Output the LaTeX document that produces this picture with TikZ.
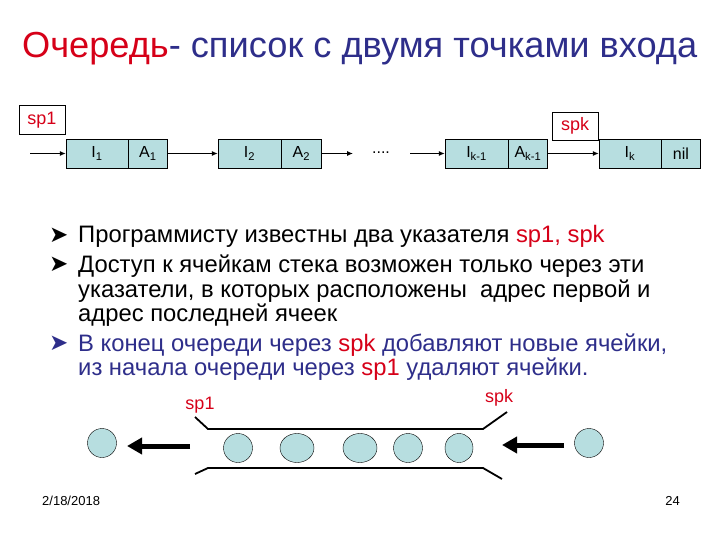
\documentclass[tikz,border=0pt]{standalone}
\usepackage{fontspec}
\setmainfont{Liberation Sans}
\newfontfamily\bulletfont{DejaVu Sans}
\usetikzlibrary{arrows.meta,positioning,shapes.geometric}
\definecolor{cellfill}{RGB}{183,222,224}
\definecolor{titleblue}{RGB}{46,46,138}
\definecolor{ptrred}{RGB}{214,0,24}
\begin{document}
\begin{tikzpicture}[x=1pt,y=-1pt,
  cell/.style={draw,fill=cellfill,minimum height=29pt,inner sep=0pt,font=\fontsize{16}{18}\selectfont},
  ptrbox/.style={draw,fill=white,minimum width=46pt,minimum height=29pt,inner sep=0pt,text=ptrred,font=\fontsize{18}{20}\selectfont},
  link/.style={-{Latex[length=6pt,width=5pt]},line width=1pt},
  ball/.style={ellipse,draw,fill=cellfill,inner sep=0pt,minimum height=29pt},
  bigarrow/.style={-{Triangle[length=15pt,width=16pt]},line width=5pt},
  tube/.style={line width=1.8pt},
  ptrlabel/.style={text=ptrred,font=\fontsize{18}{20}\selectfont},
  bulletmark/.style={anchor=base west,inner sep=0pt,font=\bulletfont\fontsize{23}{23}\selectfont},
  line/.style={anchor=base west,inner sep=0pt,font=\fontsize{23.8}{24}\selectfont}]
  \useasboundingbox (0,0) rectangle (720,540);

  % title
  \node[anchor=base west,inner sep=0pt,font=\fontsize{36.2}{40}\selectfont] (title) at (22,58)
    {\textcolor{ptrred}{Очередь}\textcolor{titleblue}{- список с двумя точками входа}};

  % list with two pointers
  \node[ptrbox] (sp1) at (42,120) {sp1};
  \node[ptrbox,minimum height=28pt] (spk) at (575,126) {spk};
  \node[cell,minimum width=62pt] (i1) at (97,153.5) {I\textsubscript{1}};
  \node[cell,minimum width=39pt,right=0pt of i1] (a1) {A\textsubscript{1}};
  \node[cell,minimum width=63pt] (i2) at (249.5,153.5) {I\textsubscript{2}};
  \node[cell,minimum width=40pt,right=0pt of i2] (a2) {A\textsubscript{2}};
  \node[cell,minimum width=63pt] (ik1) at (476.5,153.5) {I\textsubscript{k-1}};
  \node[cell,minimum width=39pt,right=0pt of ik1] (ak1) {A\textsubscript{k-1}};
  \node[cell,minimum width=62pt] (ik) at (630,153.5) {I\textsubscript{k}};
  \node[cell,minimum width=39pt,right=0pt of ik] (nil) {nil};
  \node[anchor=base,inner sep=0pt,font=\fontsize{16}{18}\selectfont] (dots) at (381,154) {....};
  \coordinate (in1) at (30,153.5);
  \coordinate (out2) at (353,153.5);
  \coordinate (ink) at (410,153.5);
  \draw[link] (in1) -- (i1);
  \draw[link] (a1) -- (i2);
  \draw[link] (a2) -- (out2);
  \draw[link] (ink) -- (ik1);
  \draw[link] (ak1) -- (ik);

  % text
  \node[bulletmark] (m1) at (49,242) {➤};
  \node[bulletmark] (m2) at (49,271) {➤};
  \node[bulletmark,text=titleblue] (m3) at (49,350) {➤};
  \node[line] (t1) at (78,243) {Программисту известны два указателя \textcolor{ptrred}{sp1, spk}};
  \node[line] (t2) at (78,272) {Доступ к ячейкам стека возможен только через эти};
  \node[line] (t3) at (78,297) {указатели, в которых расположены \ адрес первой и};
  \node[line] (t4) at (78,321) {адрес последней ячеек};
  \node[line,text=titleblue] (t5) at (78,351) {В конец очереди через \textcolor{ptrred}{spk} добавляют новые ячейки,};
  \node[line,text=titleblue] (t6) at (78,375) {из начала очереди через \textcolor{ptrred}{sp1} удаляют ячейки.};

  % queue picture
  \node[ball,minimum width=29pt] (out) at (102,443) {};
  \node[ball,minimum width=29pt] (b1) at (238,448) {};
  \node[ball,minimum width=34pt] (b2) at (297,448) {};
  \node[ball,minimum width=34pt] (b3) at (360,448) {};
  \node[ball,minimum width=29pt] (b4) at (408,448) {};
  \node[ball,minimum width=28pt] (b5) at (459,448) {};
  \node[ball,minimum width=29pt] (new) at (589,443) {};
  \coordinate (lt) at (208,429);
  \coordinate (rt) at (483,429);
  \coordinate (lb) at (208,468);
  \coordinate (rb) at (483,468);
  \draw[tube] (195,417) -- (lt) -- (rt) -- (507,412);
  \draw[tube] (195,474) -- (lb) -- (rb) -- (502,479);
  \node[ptrlabel] (lsp1) at (200,405) {sp1};
  \node[ptrlabel] (lspk) at (499,398) {spk};
  \coordinate (lefttail) at (190,446);
  \coordinate (lefttip) at (127,446);
  \coordinate (righttail) at (564,445);
  \coordinate (righttip) at (502,445);
  \draw[bigarrow] (lefttail) -- (lefttip);
  \draw[bigarrow] (righttail) -- (righttip);

  % footer
  \node[anchor=base west,inner sep=0pt,font=\fontsize{13}{15}\selectfont] (date) at (42,505) {2/18/2018};
  \node[anchor=base east,inner sep=0pt,font=\fontsize{13}{15}\selectfont] (page) at (680,505) {24};
\end{tikzpicture}
\end{document}
